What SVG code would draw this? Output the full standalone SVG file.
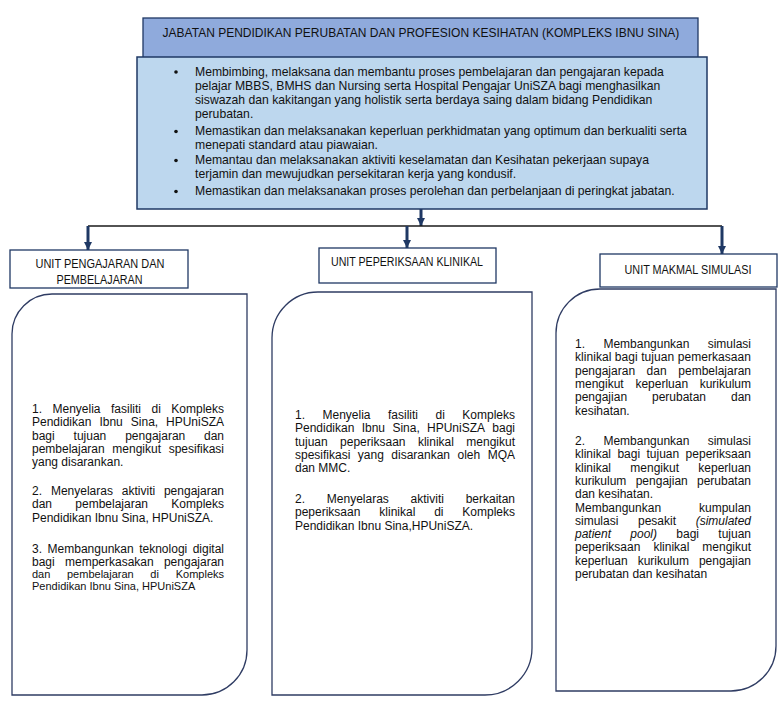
<svg xmlns="http://www.w3.org/2000/svg" width="781" height="712" viewBox="0 0 781 712">
<style>
.t{font-family:"Liberation Sans",Arial,sans-serif;fill:#111}
.b{font-family:"Liberation Sans",Arial,sans-serif;font-size:12px;fill:#111}
.s{font-size:11px}
.e{text-anchor:end}
.i{font-style:italic}
.u{font-family:"Liberation Sans",Arial,sans-serif;font-size:12px;fill:#111}
.box{fill:#fff;stroke:#1F3864;stroke-width:1.3}
.big{fill:#fff;stroke:#2F3C63;stroke-width:1.3}
.arr{stroke:#1F3864;stroke-width:3;fill:none}
</style>
<defs>
<marker id="ah" viewBox="0 0 8 8" refX="8" refY="4" markerWidth="8" markerHeight="8" markerUnits="userSpaceOnUse" orient="auto"><path d="M0,0 L8,4 L0,8 z" fill="#1F3864"/></marker>
</defs>
<rect width="781" height="712" fill="#fff"/>

<g id="title">
<rect x="143" y="18" width="555" height="40" fill="#8FAADC" stroke="#1F3864" stroke-width="1.3"/>
<text class="t" x="421" y="37" font-size="12" text-anchor="middle">JABATAN PENDIDIKAN PERUBATAN DAN PROFESION KESIHATAN (KOMPLEKS IBNU SINA)</text>
</g>

<g id="functions">
<rect x="137" y="57" width="570" height="152" fill="#BDD7EE" stroke="#1F3864" stroke-width="1.5"/>
<g fill="#111"><circle cx="176" cy="72" r="1.8"/><circle cx="176" cy="131.5" r="1.8"/><circle cx="176" cy="160.5" r="1.8"/><circle cx="176" cy="191.5" r="1.8"/></g>
<text class="t" font-size="12.2">
<tspan x="195" y="75.5">Membimbing, melaksana dan membantu proses pembelajaran dan pengajaran kepada</tspan>
<tspan x="195" y="89.5">pelajar MBBS, BMHS dan Nursing serta Hospital Pengajar UniSZA bagi menghasilkan</tspan>
<tspan x="195" y="103.5">siswazah dan kakitangan yang holistik serta berdaya saing dalam bidang Pendidikan</tspan>
<tspan x="195" y="117.5">perubatan.</tspan>
<tspan x="195" y="135">Memastikan dan melaksanakan keperluan perkhidmatan yang optimum dan berkualiti serta</tspan>
<tspan x="195" y="149">menepati standard atau piawaian.</tspan>
<tspan x="195" y="164">Memantau dan melaksanakan aktiviti keselamatan dan Kesihatan pekerjaan supaya</tspan>
<tspan x="195" y="178">terjamin dan mewujudkan persekitaran kerja yang kondusif.</tspan>
<tspan x="195" y="195">Memastikan dan melaksanakan proses perolehan dan perbelanjaan di peringkat jabatan.</tspan>
</text>
</g>

<g id="connectors">
<line class="arr" x1="421" y1="209" x2="421" y2="226" marker-end="url(#ah)"/>
<line x1="88" y1="226" x2="722" y2="226" stroke="#1a1a1a" stroke-width="1.5"/>
<line class="arr" x1="88" y1="226" x2="88" y2="250" marker-end="url(#ah)"/>
<line class="arr" x1="407" y1="226" x2="407" y2="248" marker-end="url(#ah)"/>
<line class="arr" x1="722" y1="226" x2="722" y2="254" marker-end="url(#ah)"/>
</g>

<g id="unit-pengajaran">
<rect class="box" x="10" y="250" width="178" height="38"/>
<text class="u" x="100" y="268" text-anchor="middle" textLength="129" lengthAdjust="spacingAndGlyphs">UNIT PENGAJARAN DAN</text>
<text class="u" x="99.5" y="284" text-anchor="middle" textLength="86" lengthAdjust="spacingAndGlyphs">PEMBELAJARAN</text>
</g>

<g id="unit-peperiksaan">
<rect class="box" x="319" y="248" width="177" height="35"/>
<text class="u" x="407" y="266" text-anchor="middle" textLength="152" lengthAdjust="spacingAndGlyphs">UNIT PEPERIKSAAN KLINIKAL</text>
</g>

<g id="unit-makmal">
<rect class="box" x="600" y="254" width="177" height="33"/>
<text class="u" x="688" y="274" text-anchor="middle" textLength="127" lengthAdjust="spacingAndGlyphs">UNIT MAKMAL SIMULASI</text>
</g>

<g id="tugas-pengajaran">
<path class="big" d="M52,294 H247 V650 A45,45 0 0 1 202,695 H12 V334 A40,40 0 0 1 52,294 Z"/>
<text class="b"><tspan x="32" y="413">1.</tspan><tspan x="52.5">Menyelia</tspan><tspan x="111">fasiliti</tspan><tspan x="151.5">di</tspan></text>
<text class="b e" x="224" y="413">Kompleks</text>
<text class="b"><tspan x="32" y="426.3">Pendidikan</tspan><tspan x="99.4">Ibnu</tspan><tspan x="130.8">Sina,</tspan></text>
<text class="b e" x="224" y="426.3">HPUniSZA</text>
<text class="b"><tspan x="32" y="439.6">bagi</tspan><tspan x="73.6">tujuan</tspan><tspan x="125.2">pengajaran</tspan></text>
<text class="b e" x="224" y="439.6">dan</text>
<text class="b"><tspan x="32" y="452.9">pembelajaran</tspan><tspan x="112.3">mengikut</tspan></text>
<text class="b e" x="224" y="452.9">spesifikasi</text>
<text class="b" x="32" y="466.2">yang disarankan.</text>
<text class="b"><tspan x="32" y="495">2.</tspan><tspan x="50.9">Menyelaras</tspan><tspan x="121.8">aktiviti</tspan></text>
<text class="b e" x="224" y="495">pengajaran</text>
<text class="b"><tspan x="32" y="508.3">dan</tspan><tspan x="75.3">pembelajaran</tspan></text>
<text class="b e" x="224" y="508.3">Kompleks</text>
<text class="b" x="32" y="521.6">Pendidikan Ibnu Sina, HPUniSZA.</text>
<text class="b"><tspan x="32" y="552.5">3.</tspan><tspan x="47.6">Membangunkan</tspan><tspan x="139.2">teknologi</tspan></text>
<text class="b e" x="224" y="552.5">digital</text>
<text class="b"><tspan x="32" y="565.8">bagi</tspan><tspan x="65">memperkasakan</tspan></text>
<text class="b e" x="224" y="565.8">pengajaran</text>
<text class="b s"><tspan x="32" y="578">dan</tspan><tspan x="67">pembelajaran</tspan><tspan x="150.3">di</tspan></text>
<text class="b s e" x="224" y="578">Kompleks</text>
<text class="b s" x="32" y="590">Pendidikan Ibnu Sina, HPUniSZA</text>
</g>

<g id="tugas-peperiksaan">
<path class="big" d="M318,292 H532 V648 A47,47 0 0 1 485,695 H272 V338 A46,46 0 0 1 318,292 Z"/>
<text class="b"><tspan x="295" y="419">1.</tspan><tspan x="322.5">Menyelia</tspan><tspan x="388">fasiliti</tspan><tspan x="435.5">di</tspan></text>
<text class="b e" x="515" y="419">Kompleks</text>
<text class="b"><tspan x="295" y="432.3">Pendidikan</tspan><tspan x="361.7">Ibnu</tspan><tspan x="392.4">Sina,</tspan><tspan x="427">HPUniSZA</tspan></text>
<text class="b e" x="515" y="432.3">bagi</text>
<text class="b"><tspan x="295" y="445.6">tujuan</tspan><tspan x="340.1">peperiksaan</tspan><tspan x="417.9">klinikal</tspan></text>
<text class="b e" x="515" y="445.6">mengikut</text>
<text class="b"><tspan x="295" y="458.9">spesifikasi</tspan><tspan x="357.8">yang</tspan><tspan x="391.3">disarankan</tspan><tspan x="457.5">oleh</tspan></text>
<text class="b e" x="515" y="458.9">MQA</text>
<text class="b" x="295" y="472.2">dan MMC.</text>
<text class="b"><tspan x="295" y="503">2.</tspan><tspan x="326.8">Menyelaras</tspan><tspan x="410.6">aktiviti</tspan></text>
<text class="b e" x="515" y="503">berkaitan</text>
<text class="b"><tspan x="295" y="516.3">peperiksaan</tspan><tspan x="379.3">klinikal</tspan><tspan x="434.2">di</tspan></text>
<text class="b e" x="515" y="516.3">Kompleks</text>
<text class="b" x="295" y="529.6">Pendidikan Ibnu Sina,HPUniSZA.</text>
</g>

<g id="tugas-makmal">
<path class="big" d="M600,289 H776 V646 A45,45 0 0 1 731,691 H556 V333 A44,44 0 0 1 600,289 Z"/>
<text class="b"><tspan x="575" y="348">1.</tspan><tspan x="603.4">Membangunkan</tspan></text>
<text class="b e" x="751" y="348">simulasi</text>
<text class="b" x="575" y="361.3" textLength="176" lengthAdjust="spacing">klinikal bagi tujuan pemerkasaan</text>
<text class="b"><tspan x="575" y="374.6">pengajaran</tspan><tspan x="646.6">dan</tspan></text>
<text class="b e" x="751" y="374.6">pembelajaran</text>
<text class="b"><tspan x="575" y="387.9">mengikut</tspan><tspan x="635.4">keperluan</tspan></text>
<text class="b e" x="751" y="387.9">kurikulum</text>
<text class="b"><tspan x="575" y="401.2">pengajian</tspan><tspan x="652">perubatan</tspan></text>
<text class="b e" x="751" y="401.2">dan</text>
<text class="b" x="575" y="414.5">kesihatan.</text>
<text class="b"><tspan x="575" y="445">2.</tspan><tspan x="603.4">Membangunkan</tspan></text>
<text class="b e" x="751" y="445">simulasi</text>
<text class="b"><tspan x="575" y="458.3">klinikal</tspan><tspan x="617.4">bagi</tspan><tspan x="646.5">tujuan</tspan></text>
<text class="b e" x="751" y="458.3">peperiksaan</text>
<text class="b"><tspan x="575" y="471.6">klinikal</tspan><tspan x="630.3">mengikut</tspan></text>
<text class="b e" x="751" y="471.6">keperluan</text>
<text class="b"><tspan x="575" y="484.9">kurikulum</tspan><tspan x="635.7">pengajian</tspan></text>
<text class="b e" x="751" y="484.9">perubatan</text>
<text class="b" x="575" y="498.2">dan kesihatan.</text>
<text class="b" x="575" y="511.5">Membangunkan</text>
<text class="b e" x="751" y="511.5">kumpulan</text>
<text class="b"><tspan x="575" y="524.8">simulasi</tspan><tspan x="638">pesakit</tspan></text>
<text class="b e i" x="751" y="524.8">(simulated</text>
<text class="b"><tspan class="i" x="575" y="538.1">patient</tspan><tspan class="i" x="630.3">pool)</tspan><tspan x="676.3">bagi</tspan></text>
<text class="b e" x="751" y="538.1">tujuan</text>
<text class="b"><tspan x="575" y="551.4">peperiksaan</tspan><tspan x="653.4">klinikal</tspan></text>
<text class="b e" x="751" y="551.4">mengikut</text>
<text class="b"><tspan x="575" y="564.7">keperluan</tspan><tspan x="637.7">kurikulum</tspan></text>
<text class="b e" x="751" y="564.7">pengajian</text>
<text class="b" x="575" y="578">perubatan dan kesihatan</text>
</g>
</svg>
